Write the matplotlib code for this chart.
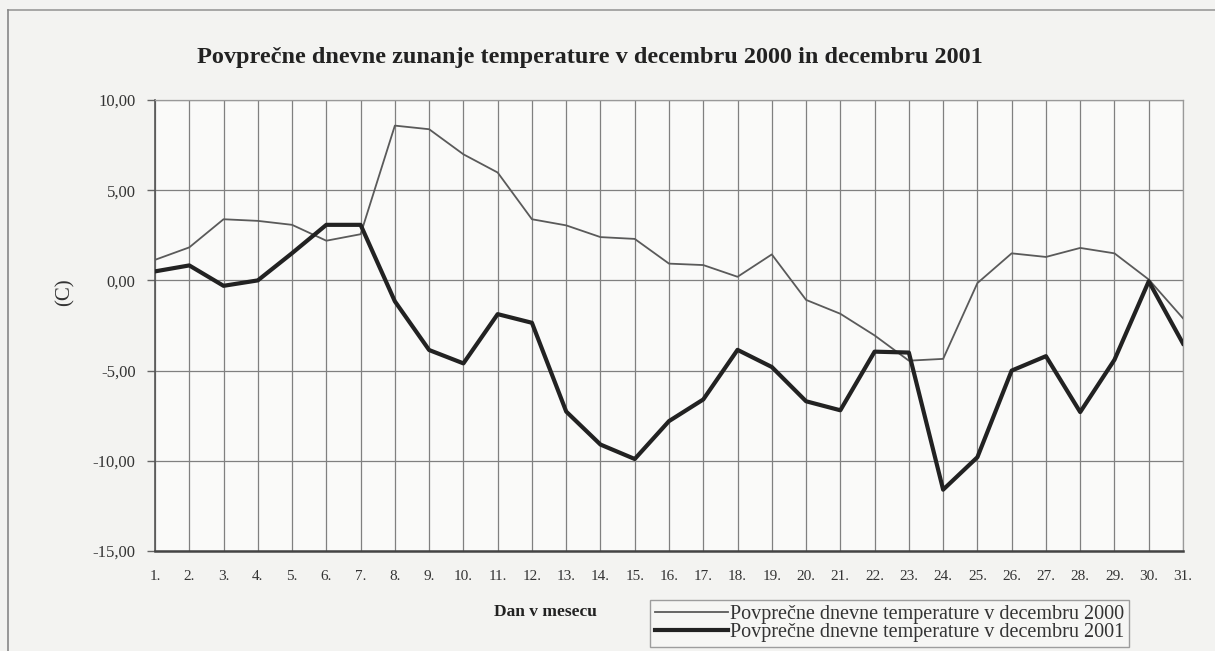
import matplotlib; matplotlib.use("Agg")
import matplotlib.pyplot as plt
from matplotlib.lines import Line2D

# daily mean outdoor temperatures (C)
days = list(range(1, 32))
t2000 = [1.14, 1.83, 3.39, 3.30, 3.08, 2.20, 2.56, 8.58, 8.38, 6.99, 5.98, 3.39, 3.05, 2.40,
         2.30, 0.93, 0.85, 0.20, 1.44, -1.08, -1.85, -3.05, -4.45, -4.35, -0.15, 1.50, 1.30,
         1.80, 1.50, 0.05, -2.10]
t2001 = [0.50, 0.83, -0.30, 0.00, 1.51, 3.08, 3.08, -1.16, -3.86, -4.60, -1.87, -2.35, -7.27,
         -9.10, -9.90, -7.80, -6.60, -3.85, -4.80, -6.70, -7.20, -3.95, -4.00, -11.60, -9.80,
         -5.00, -4.20, -7.30, -4.40, -0.05, -3.50]
yticks = [10, 5, 0, -5, -10, -15]
ytick_labels = ["10,00", "5,00", "0,00", "-5,00", "-10,00", "-15,00"]
xtick_labels = [f"{d}." for d in days]
title = "Povprečne dnevne zunanje temperature v decembru 2000 in decembru 2001"
lab2000 = "Povprečne dnevne temperature v decembru 2000"
lab2001 = "Povprečne dnevne temperature v decembru 2001"

plt.rcParams["font.family"] = ["Liberation Serif", "DejaVu Serif"]
W, H = 1215, 651
fig = plt.figure(figsize=(W / 100, H / 100), dpi=100, facecolor="#f3f3f1")
ax = fig.add_axes([155 / W, 1 - 551 / H, (1183 - 155) / W, (551 - 100) / H], facecolor="#fafaf9")

ax.plot(days, t2000, color="#5a5a5a", lw=1.3, label=lab2000, zorder=3)
ax.plot(days, t2001, color="#222222", lw=3.0, label=lab2001, zorder=4)

ax.set_xlim(1, 31); ax.set_ylim(-15, 10)
ax.set_xticks(days); ax.set_xticklabels(xtick_labels, fontsize=11, color="#333333")
ax.set_yticks(yticks); ax.set_yticklabels(ytick_labels, fontsize=12, color="#333333")
ax.tick_params(axis="x", length=0, pad=14)
ax.tick_params(axis="y", length=6, width=1, color="#666666", pad=8)
ax.grid(True, color="#808080", lw=0.9)
for side in ("top", "right"):
    ax.spines[side].set_color("#999999"); ax.spines[side].set_linewidth(0.9)
ax.spines["left"].set_color("#555555"); ax.spines["left"].set_linewidth(1.2)
ax.spines["bottom"].set_color("#444444"); ax.spines["bottom"].set_linewidth(1.8)

fig.text(590 / W, 1 - 57 / H, title, ha="center", va="center", fontsize=17.5,
         fontweight="bold", color="#222222")
fig.text(65 / W, 1 - 292 / H, "(C)", rotation=90, ha="center", va="center",
         fontsize=15, color="#333333")
fig.text(545 / W, 1 - 612 / H, "Dan v mesecu", ha="center", va="center", fontsize=12.5,
         fontweight="bold", color="#222222")

leg = fig.legend(loc="upper left", bbox_to_anchor=(650 / W, 1 - 600 / H), fontsize=14.5,
                 frameon=True, fancybox=False, edgecolor="#888888", facecolor="#f7f7f5",
                 handlelength=3.6, handletextpad=0.1, borderpad=0.25, labelspacing=-0.05,
                 borderaxespad=0)
leg.get_frame().set_linewidth(1.0)
for t in leg.get_texts():
    t.set_color("#333333")

# outer frame of the scanned figure
fig.add_artist(Line2D([8 / W, 1], [1 - 10 / H, 1 - 10 / H], color="#999999", lw=1.2))
fig.add_artist(Line2D([8 / W, 8 / W], [0, 1 - 10 / H], color="#888888", lw=1.2))

fig.savefig("out.png", dpi=100, facecolor=fig.get_facecolor())
